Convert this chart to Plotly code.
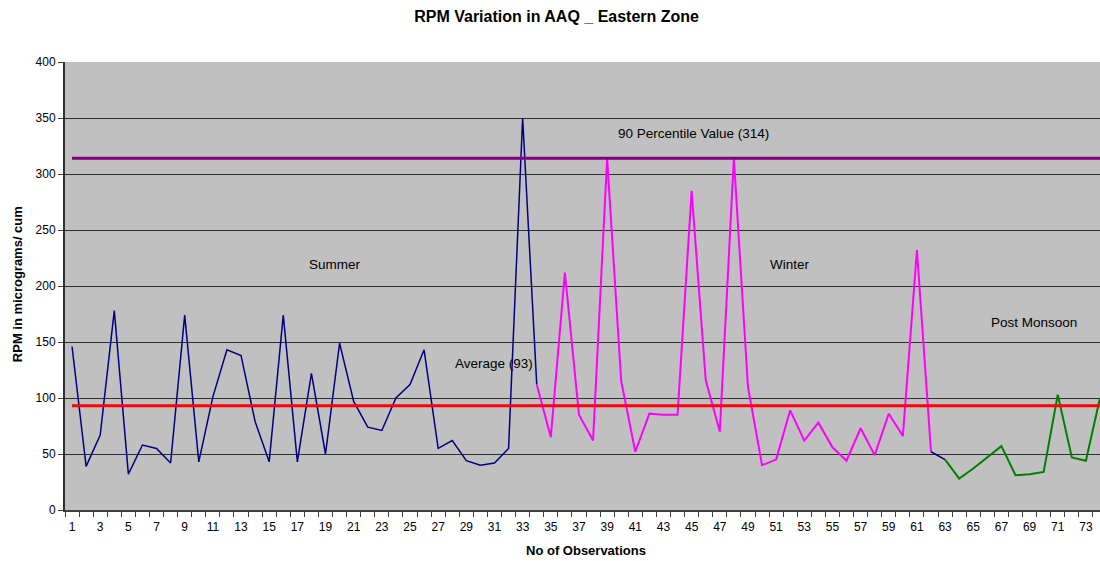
import plotly.graph_objects as go

# RPM readings (micrograms/cum) by observation number, per season
summer_obs = list(range(1, 35))
summer_rpm = [146, 39, 67, 178, 32, 58, 55, 42, 174, 43, 101, 143, 138, 79, 43, 174, 43,
              122, 50, 149, 97, 74, 71, 100, 112, 143, 55, 62, 44, 40, 42, 55, 350, 112]

winter_obs = list(range(34, 63))
winter_rpm = [112, 65, 212, 85, 62, 314, 115, 52, 86, 85, 85, 285, 116, 70, 314,
              110, 40, 45, 89, 62, 78, 56, 44, 73, 49, 86, 66, 232, 52]

post_monsoon_obs = list(range(63, 75))
post_monsoon_rpm = [45, 28, 37, 47, 57, 31, 32, 34, 103, 47, 44, 100]

average_rpm = 93
percentile_90_rpm = 314

x_tick_vals = list(range(1, 75, 2))
y_tick_vals = list(range(0, 401, 50))

FONT = "Liberation Sans, Arial, sans-serif"
all_obs = summer_obs + post_monsoon_obs

fig = go.Figure()

fig.add_trace(go.Scatter(x=summer_obs, y=summer_rpm, mode="lines",
                         line=dict(color="#000080", width=1.5), name="Summer"))
fig.add_trace(go.Scatter(x=winter_obs, y=winter_rpm, mode="lines",
                         line=dict(color="#FF00FF", width=2), name="Winter"))
# short navy link between the winter and post monsoon runs
fig.add_trace(go.Scatter(x=[winter_obs[-1], post_monsoon_obs[0]],
                         y=[winter_rpm[-1], post_monsoon_rpm[0]], mode="lines",
                         line=dict(color="#000080", width=1.5), name="Link"))
fig.add_trace(go.Scatter(x=post_monsoon_obs, y=post_monsoon_rpm, mode="lines",
                         line=dict(color="#008000", width=2), name="Post Monsoon"))

fig.add_trace(go.Scatter(x=[all_obs[0], all_obs[-1]], y=[average_rpm] * 2, mode="lines",
                         line=dict(color="#FF0000", width=3), name="Average"))
fig.add_trace(go.Scatter(x=[all_obs[0], all_obs[-1]], y=[percentile_90_rpm] * 2, mode="lines",
                         line=dict(color="#800080", width=3), name="90 Percentile"))

labels = [
    ("Summer", 19.7, 219),
    ("Winter", 52.0, 219.5),
    ("Post Monsoon", 69.3, 167),
    ("Average (93)", 31.0, 131),
    ("90 Percentile Value (314)", 45.1, 336.5),
]
for text, lx, ly in labels:
    fig.add_annotation(x=lx, y=ly, text=text, showarrow=False,
                       xanchor="center", yanchor="middle",
                       font=dict(family=FONT, size=13.5, color="black"))

fig.add_annotation(xref="paper", yref="paper", x=-0.0464, y=0.504, text="<b>RPM in micrograms/ cum</b>",
                   xanchor="center", yanchor="middle", textangle=-90, showarrow=False,
                   font=dict(family=FONT, size=13, color="black"))
fig.add_annotation(xref="paper", yref="paper", x=0.503, y=-0.0893, text="<b>No of Observations</b>",
                   xanchor="center", yanchor="middle", showarrow=False,
                   font=dict(family=FONT, size=13, color="black"))

fig.update_layout(
    width=1100,
    height=561,
    showlegend=False,
    paper_bgcolor="white",
    plot_bgcolor="#C0C0C0",
    margin=dict(l=65, r=0, t=62, b=51, autoexpand=False),
    title=dict(text="<b>RPM Variation in AAQ _ Eastern Zone</b>", x=0.506, xanchor="center",
               y=1 - 16 / 561, yanchor="middle", yref="container",
               font=dict(family=FONT, size=16, color="black")),
    font=dict(family=FONT, size=12, color="black"),
)

fig.update_xaxes(
    range=[0.5, 74.0],
    tickmode="array",
    tickvals=x_tick_vals,
    ticks="outside",
    ticklen=5,
    tickcolor="rgba(0,0,0,0)",
    showgrid=False,
    zeroline=False,
    showline=True,
    linecolor="#404040",
    linewidth=2,
    tickfont=dict(family=FONT, size=12, color="black"),
    minor=dict(tick0=0.5, dtick=1, ticks="outside", ticklen=5, tickcolor="#404040", tickwidth=1),
)

fig.update_yaxes(
    range=[0, 400],
    tickmode="array",
    tickvals=y_tick_vals,
    ticks="outside",
    ticklen=5,
    tickcolor="#404040",
    showgrid=True,
    gridcolor="#303030",
    gridwidth=1,
    zeroline=False,
    showline=True,
    linecolor="#303030",
    linewidth=2,
    tickfont=dict(family=FONT, size=12, color="black"),
)

fig.write_html(
    "out.html",
    config={"displayModeBar": False},
    post_script="document.body.style.margin='0';document.body.style.overflow='hidden';",
)
